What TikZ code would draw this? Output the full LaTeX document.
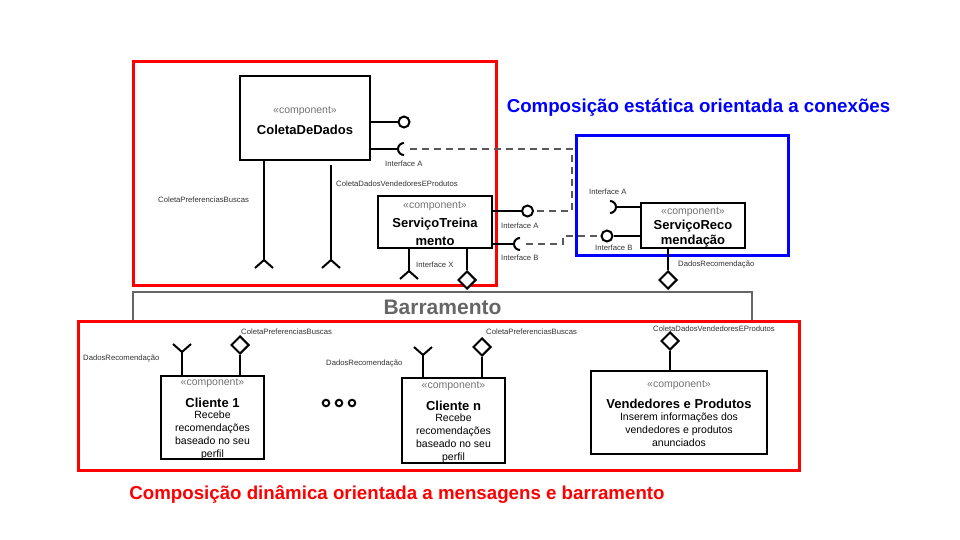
\documentclass[tikz,border=0pt]{standalone}
\usepackage{fontspec}
\setmainfont{Liberation Sans}
\usetikzlibrary{shapes.geometric}
\begin{document}
\begin{tikzpicture}[x=1pt,y=-1pt,
  comp/.style={draw=black,line width=2pt,inner sep=0pt,fill=white},
  stereo/.style={text=black!55,font=\fontsize{10.5}{12}\selectfont,inner sep=0pt},
  ctitle/.style={font=\bfseries\fontsize{13}{15}\selectfont,inner sep=0pt},
  cbody/.style={font=\fontsize{10.5}{13}\selectfont,inner sep=0pt,align=center},
  lbl/.style={font=\fontsize{7.7}{9}\selectfont,inner sep=0pt,text=black!80},
  wire/.style={line width=2pt,black},
  dashline/.style={line width=2pt,black!65,dash pattern=on 7pt off 5pt},
  frame/.style={line width=3pt},
  lolly/.style={draw,line width=2pt,circle,minimum size=11pt,inner sep=0pt},
  dotc/.style={draw,line width=2pt,circle,minimum size=6.5pt,inner sep=0pt},
  dmd/.style={draw,line width=2pt,diamond,minimum size=18pt,inner sep=0pt,fill=white}]
\useasboundingbox (0,0) rectangle (960,540);

% frames
\node[draw=red,frame,minimum width=363pt,minimum height=223pt,inner sep=0pt] (topframe) at (314.5,173.5) {};
\node[draw=blue,frame,minimum width=212pt,minimum height=119pt,inner sep=0pt] (blueframe) at (682,195.5) {};
\node[draw=black!60,line width=2pt,minimum width=619pt,minimum height=30pt,inner sep=0pt,
      font=\bfseries\fontsize{21}{23}\selectfont,text=black!60] (bus) at (442.5,307) {Barramento};
\node[draw=red,frame,minimum width=721pt,minimum height=149pt,inner sep=0pt] (botframe) at (438.5,395.5) {};

\node[text=blue,font=\bfseries\fontsize{18.7}{20}\selectfont,inner sep=0pt] (t1) at (698.5,108) {Composição estática orientada a conexões};
\node[text=red,font=\bfseries\fontsize{18.7}{20}\selectfont,inner sep=0pt] (t2) at (397,494) {Composição dinâmica orientada a mensagens e barramento};

% ColetaDeDados
\node[comp,minimum width=130pt,minimum height=84pt] (cd) at (305,118) {};
\node[stereo] (cds) at (305,111) {«component»};
\node[ctitle] (cdt) at (305,130) {ColetaDeDados};
\coordinate (cdp1) at (398.5,122);
\coordinate (cdq1) at (398,149);
\draw[wire] (cd.east |- cdp1) -- (cdp1);
\node[lolly] (cdc) at (404,122) {};
\draw[wire] (cd.east |- cdq1) -- (cdq1);
\draw[wire] (404,143) arc[start angle=270,end angle=90,radius=6];
\node[lbl,anchor=west] (la1) at (385,164) {Interface  A};
% down lines
\coordinate (cdd1) at (264,260);
\coordinate (cdd2) at (331,260);
\draw[wire] (cd.south -| cdd1) -- (cdd1);
\draw[wire] (331,165) -- (cdd2);
\draw[wire] (255,268) -- (cdd1) -- (273,268);
\draw[wire] (322,268) -- (cdd2) -- (340,268);
\node[lbl,anchor=west] (lcpb) at (158,200) {ColetaPreferenciasBuscas};
\node[lbl,anchor=west] (lcdv) at (336,184) {ColetaDadosVendedoresEProdutos};

% ServicoTreinamento
\node[comp,minimum width=114pt,minimum height=52pt] (st) at (435,222) {};
\node[stereo] (sts) at (435,206) {«component»};
\node[ctitle] (stt1) at (435,224) {ServiçoTreina};
\node[ctitle] (stt2) at (435,241) {mento};
\coordinate (stp1) at (522,211);
\node[lolly] (stc) at (527.5,211) {};
\draw[wire] (st.east |- stp1) -- (stp1);
\coordinate (stq1) at (514,244);
\draw[wire] (st.east |- stq1) -- (stq1);
\draw[wire] (520,238) arc[start angle=270,end angle=90,radius=6];
\node[lbl,anchor=west] (la2) at (501,226) {Interface  A};
\node[lbl,anchor=west] (lb2) at (501,258) {Interface  B};
\coordinate (stx) at (409,271);
\draw[wire] (st.south -| stx) -- (stx);
\draw[wire] (400,279) -- (stx) -- (418,279);
\node[lbl,anchor=west] (lx) at (416,265) {Interface  X};
\node[dmd] (std) at (467,280) {};
\draw[wire] (st.south -| std) -- (std.north);

% ServicoRecomendacao
\node[comp,minimum width=104pt,minimum height=45pt] (sr) at (693,225) {};
\node[stereo] (srs) at (693,212) {«component»};
\node[ctitle] (srt1) at (693,226) {ServiçoReco};
\node[ctitle] (srt2) at (693,241) {mendação};
\coordinate (srq1) at (616,207);
\draw[wire] (sr.west |- srq1) -- (srq1);
\draw[wire] (610,201) arc[start angle=-90,end angle=90,radius=6];
\node[lolly] (src) at (607,236) {};
\draw[wire] (sr.west |- src) -- (src.east);
\node[lbl,anchor=west] (la3) at (589,192) {Interface  A};
\node[lbl,anchor=west] (lb3) at (595,248) {Interface  B};
\node[dmd] (srd) at (668,280) {};
\draw[wire] (sr.south -| srd) -- (srd.north);
\node[lbl,anchor=west] (ldr) at (678,265) {DadosRecomendação};

% dashed connections
\draw[dashline] (410,149) -- (572,149) -- (572,211) -- (stc.east);
\draw[dashline] (526,244) -- (563,244) -- (563,236) -- (src.west);

% Cliente 1
\node[comp,minimum width=103pt,minimum height=83pt] (c1) at (212.5,417.5) {};
\node[stereo] (c1s) at (212.5,383) {«component»};
\node[ctitle] (c1t) at (212.5,403) {Cliente 1};
\node[cbody] (c1b) at (212.5,435) {Recebe\\recomendações\\baseado no seu\\perfil};
\coordinate (c1y) at (182,352);
\draw[wire] (c1.north -| c1y) -- (c1y);
\draw[wire] (173,344) -- (c1y) -- (191,344);
\node[dmd] (c1d) at (240,345) {};
\draw[wire] (c1.north -| c1d) -- (c1d.south);
\node[lbl,anchor=west] (l1) at (83,359) {DadosRecomendação};
\node[lbl,anchor=west] (l2) at (241,332) {ColetaPreferenciasBuscas};

% dots
\node[dotc] (d1) at (326,403) {};
\node[dotc] (d2) at (339,403) {};
\node[dotc] (d3) at (352,403) {};

% Cliente n
\node[comp,minimum width=103pt,minimum height=85pt] (cn) at (453.5,420.5) {};
\node[stereo] (cns) at (453.5,386) {«component»};
\node[ctitle] (cnt) at (453.5,406) {Cliente n};
\node[cbody] (cnb) at (453.5,438) {Recebe\\recomendações\\baseado no seu\\perfil};
\coordinate (cny) at (423,355);
\draw[wire] (cn.north -| cny) -- (cny);
\draw[wire] (414,347) -- (cny) -- (432,347);
\node[dmd] (cnd) at (482,347) {};
\draw[wire] (cn.north -| cnd) -- (cnd.south);
\node[lbl,anchor=west] (l3) at (326,364) {DadosRecomendação};
\node[lbl,anchor=west] (l4) at (486,332) {ColetaPreferenciasBuscas};

% Vendedores e Produtos
\node[comp,minimum width=176pt,minimum height=83pt] (vp) at (679,412.5) {};
\node[stereo] (vps) at (679,385) {«component»};
\node[ctitle] (vpt) at (679,404) {Vendedores e Produtos};
\node[cbody] (vpb) at (679,430) {Inserem informações dos\\vendedores e produtos\\anunciados};
\node[dmd] (vpd) at (670,341) {};
\draw[wire] (vp.north -| vpd) -- (vpd.south);
\node[lbl,anchor=west] (l5) at (653,329) {ColetaDadosVendedoresEProdutos};
\end{tikzpicture}
\end{document}
